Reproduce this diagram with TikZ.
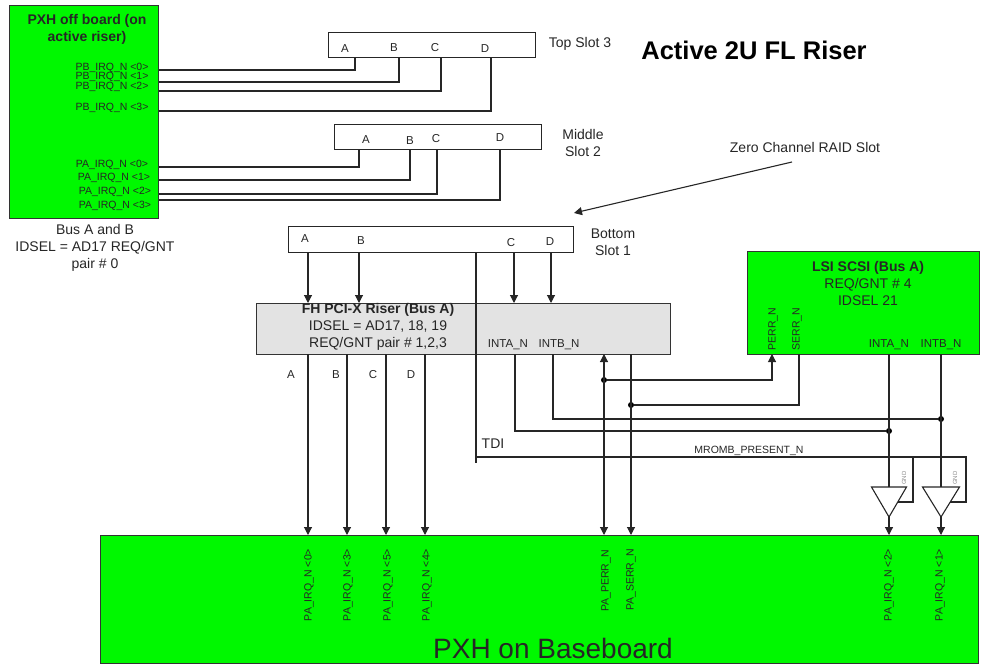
\documentclass[tikz,border=0pt]{standalone}
\usepackage{fontspec}
\setmainfont{Liberation Sans}
\usetikzlibrary{arrows.meta,shapes.geometric}
\definecolor{boardgreen}{RGB}{0,248,0}
\definecolor{risergray}{RGB}{227,227,227}
\newcommand{\fsize}[1]{\fontsize{#1}{17}\selectfont}

\begin{document}
\begin{tikzpicture}[
    x=1pt, y=-1pt,
    >={Stealth[length=8pt,width=8pt,inset=0pt]},
    boardbox/.style={rectangle, draw=black!80, line width=1.2pt, fill=boardgreen, anchor=north west, inner sep=0pt},
    slotbox/.style={rectangle, draw=black!85, line width=1.1pt, fill=white, anchor=north west, inner sep=0pt},
    wire/.style={draw=black!85, line width=1.1pt},
    arr/.style={wire, ->},
    dotjoin/.style={circle, fill=black, inner sep=0pt, minimum size=6pt},
    buffer/.style={isosceles triangle, isosceles triangle stretches, shape border rotate=270, draw=black!85, line width=1.1pt, fill=white, inner sep=0pt, outer sep=0pt, anchor=apex},
    txt/.style={font=\fsize{14}, align=center, inner sep=0pt, text=black!85},
    boldtxt/.style={txt, font=\fsize{14}\bfseries},
    pinlbl/.style={font=\fsize{10.5}, inner sep=0pt, text=black!85},
    vpinlbl/.style={pinlbl, rotate=90},
    slotlbl/.style={font=\fsize{11.5}, inner sep=0pt, text=black!85},
    gndlbl/.style={font=\fsize{6}, inner sep=0pt, text=black!45, rotate=90}
]
\useasboundingbox (0,0) rectangle (983,664);

% Boards and slots
\node[boardbox, minimum width=149pt, minimum height=213pt] (pxhoff) at (9,5) {};
\node[slotbox, minimum width=207pt, minimum height=25pt] (topslot) at (328,32) {};
\node[slotbox, minimum width=207pt, minimum height=25pt] (midslot) at (334,124) {};
\node[slotbox, minimum width=285pt, minimum height=26pt] (botslot) at (288,226) {};
\node[boardbox, fill=risergray, minimum width=414pt, minimum height=51pt] (riser) at (256,303) {};
\node[boardbox, minimum width=232pt, minimum height=103pt] (scsi) at (747,251) {};
\node[boardbox, minimum width=878pt, minimum height=128pt] (base) at (100,535) {};
\node[buffer, minimum width=35pt, minimum height=30pt] (bufa) at (889,517) {};
\node[buffer, minimum width=37pt, minimum height=30pt] (bufb) at (941,517) {};

% Pins
\coordinate (pb0) at (158,70);
\coordinate (pb1) at (158,82);
\coordinate (pb2) at (158,91);
\coordinate (pb3) at (158,111);
\coordinate (pa0) at (158,167);
\coordinate (pa1) at (158,180);
\coordinate (pa2) at (158,194);
\coordinate (pa3) at (158,200);
\coordinate (topa) at (355,57);
\coordinate (topb) at (399,57);
\coordinate (topc) at (441,57);
\coordinate (topd) at (491,57);
\coordinate (mida) at (359,149);
\coordinate (midb) at (410,149);
\coordinate (midc) at (437,149);
\coordinate (midd) at (500,149);
\coordinate (bota) at (308,252);
\coordinate (botb) at (359,252);
\coordinate (botc) at (514,252);
\coordinate (botd) at (551,252);
\coordinate (tdi) at (476,252);
\coordinate (tdiend) at (476,463);
\coordinate (tdilevel) at (476,457);
\coordinate (risea) at (308,354);
\coordinate (riseb) at (347,354);
\coordinate (risec) at (386,354);
\coordinate (rised) at (425,354);
\coordinate (inta) at (515,354);
\coordinate (intb) at (553,354);
\coordinate (perr) at (604,354);
\coordinate (serr) at (631,354);
\coordinate (scsiperr) at (772,354);
\coordinate (scsiserr) at (799,354);
\coordinate (scsiinta) at (889,354);
\coordinate (scsiintb) at (941,354);
\coordinate (enatap) at (913,457);
\coordinate (enacorner) at (966,457);

% Junctions
\node[dotjoin] (perrdot) at (604,380) {};
\node[dotjoin] (serrdot) at (631,405) {};
\node[dotjoin] (intadot) at (889,431) {};
\node[dotjoin] (intbdot) at (941,419) {};

% Slot 3 -> PXH off board
\draw[wire] (pxhoff.east |- pb0) -| (topa);
\draw[wire] (pxhoff.east |- pb1) -| (topb);
\draw[wire] (pxhoff.east |- pb2) -| (topc);
\draw[wire] (pxhoff.east |- pb3) -| (topd);

% Slot 2 -> PXH off board
\draw[wire] (pxhoff.east |- pa0) -| (mida);
\draw[wire] (pxhoff.east |- pa1) -| (midb);
\draw[wire] (pxhoff.east |- pa2) -| (midc);
\draw[wire] (pxhoff.east |- pa3) -| (midd);

% Slot 1 -> riser
\draw[arr] (bota) -- (bota |- riser.north);
\draw[arr] (botb) -- (botb |- riser.north);
\draw[arr] (botc) -- (botc |- riser.north);
\draw[arr] (botd) -- (botd |- riser.north);

% Riser -> baseboard
\draw[arr] (risea) -- (risea |- base.north);
\draw[arr] (riseb) -- (riseb |- base.north);
\draw[arr] (risec) -- (risec |- base.north);
\draw[arr] (rised) -- (rised |- base.north);
\draw[arr, <->] (perr) -- (perr |- base.north);
\draw[arr] (serr) -- (serr |- base.north);

% PERR / SERR to SCSI
\draw[arr] (perrdot) -| (scsiperr);
\draw[wire] (serrdot) -| (scsiserr);

% Interrupts to the buffers
\draw[wire] (inta) |- (intadot);
\draw[wire] (intb) |- (intbdot);
\draw[wire] (scsiinta) -- (scsiinta |- bufa.lower side);
\draw[wire] (scsiintb) -- (scsiintb |- bufb.lower side);
\draw[arr] (bufa.apex) -- (bufa.apex |- base.north);
\draw[arr] (bufb.apex) -- (bufb.apex |- base.north);

% TDI / MROMB line
\draw[wire] (tdi) -- (tdiend);
\draw[wire] (tdilevel) -- (enacorner) |- (bufb.left side);
\draw[wire] (enatap) |- (bufa.left side);

% Zero channel arrow
\node[txt] (raidlbl) at (805,147) {Zero Channel RAID Slot};
\coordinate (raidtail) at (792,162);
\coordinate (raidtip) at (574,213);
\draw[arr] (raidtail) -- (raidtip);

% Texts
\node[font=\fsize{25.5}\bfseries, inner sep=0pt] (title) at (754,50) {Active 2U FL Riser};
\node[boldtxt] (pxhofflbl) at (87,29) {PXH off board (on\\active riser)};
\node[txt] (buslbl) at (95,248) {Bus A and B\\IDSEL = AD17 REQ/GNT\\pair \# 0};
\node[txt] (toplbl) at (580,44) {Top Slot 3};
\node[txt] (midlbl) at (583,143) {Middle\\Slot 2};
\node[txt] (botlbl) at (613,242) {Bottom\\Slot 1};
\node[txt] (riserlbl) at (378,327) {\textbf{FH PCI-X Riser (Bus A)}\\IDSEL = AD17, 18, 19\\REQ/GNT pair \# 1,2,3};
\node[txt] (scsilbl) at (868,283) {\textbf{LSI SCSI (Bus A)}\\REQ/GNT \# 4\\IDSEL 21};
\node[font=\fsize{28}, inner sep=0pt, text=black!85] (baselbl) at (553,648) {PXH on Baseboard};
\node[txt] (tdilbl) at (493,444) {TDI};
\node[pinlbl] (mrombl) at (749,451) {MROMB\_PRESENT\_N};

% PXH off board pins
\node[pinlbl] (pb0lbl) at (112,68) {PB\_IRQ\_N <0>};
\node[pinlbl] (pb1lbl) at (112,77) {PB\_IRQ\_N <1>};
\node[pinlbl] (pb2lbl) at (112,87) {PB\_IRQ\_N <2>};
\node[pinlbl] (pb3lbl) at (112,108) {PB\_IRQ\_N <3>};
\node[pinlbl] (pa0lbl) at (112,165) {PA\_IRQ\_N <0>};
\node[pinlbl] (pa1lbl) at (114,178) {PA\_IRQ\_N <1>};
\node[pinlbl] (pa2lbl) at (115,192) {PA\_IRQ\_N <2>};
\node[pinlbl] (pa3lbl) at (115,206) {PA\_IRQ\_N <3>};

% Slot letters
\node[slotlbl] (topalbl) at (345,49) {A};
\node[slotlbl] (topblbl) at (394,48) {B};
\node[slotlbl] (topclbl) at (435,48) {C};
\node[slotlbl] (topdlbl) at (485,49) {D};
\node[slotlbl] (midalbl) at (366,140) {A};
\node[slotlbl] (midblbl) at (410,141) {B};
\node[slotlbl] (midclbl) at (436,139) {C};
\node[slotlbl] (middlbl) at (500,138) {D};
\node[slotlbl] (botalbl) at (305,239) {A};
\node[slotlbl] (botblbl) at (361,241) {B};
\node[slotlbl] (botclbl) at (511,243) {C};
\node[slotlbl] (botdlbl) at (550,242) {D};
\node[slotlbl] (riseralbl) at (291,375) {A};
\node[slotlbl] (riserblbl) at (336,375) {B};
\node[slotlbl] (risercclbl) at (373,375) {C};
\node[slotlbl] (riserdlbl) at (411,375) {D};

% INT labels
\node[slotlbl] (rintalbl) at (508,345) {INTA\_N};
\node[slotlbl] (rintblbl) at (559,345) {INTB\_N};
\node[slotlbl] (sintalbl) at (889,345) {INTA\_N};
\node[slotlbl] (sintblbl) at (941,345) {INTB\_N};
\node[vpinlbl] (sperrlbl) at (773,329) {PERR\_N};
\node[vpinlbl] (sserrlbl) at (797,329) {SERR\_N};
\node[gndlbl] (gndalbl) at (904,478) {GND};
\node[gndlbl] (gndblbl) at (955,478) {GND};

% Baseboard labels
\node[vpinlbl] (b0lbl) at (309,585) {PA\_IRQ\_N <0>};
\node[vpinlbl] (b3lbl) at (348,585) {PA\_IRQ\_N <3>};
\node[vpinlbl] (b5lbl) at (388,585) {PA\_IRQ\_N <5>};
\node[vpinlbl] (b4lbl) at (427,585) {PA\_IRQ\_N <4>};
\node[vpinlbl] (bperrlbl) at (606,581) {PA\_PERR\_N};
\node[vpinlbl] (bserrlbl) at (631,580) {PA\_SERR\_N};
\node[vpinlbl] (b2lbl) at (889,585) {PA\_IRQ\_N <2>};
\node[vpinlbl] (b1lbl) at (940,585) {PA\_IRQ\_N <1>};

\end{tikzpicture}
\end{document}
